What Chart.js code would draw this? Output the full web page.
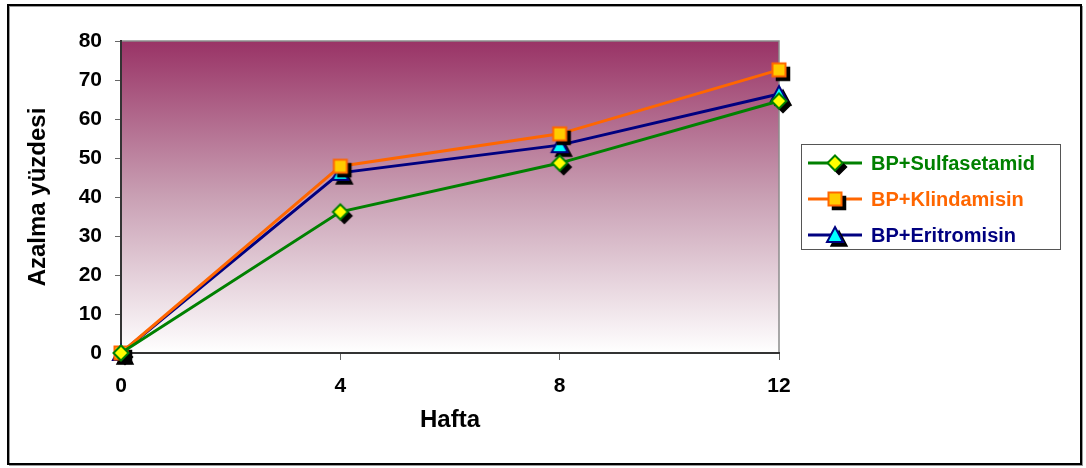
<!DOCTYPE html>
<html>
<head>
<meta charset="utf-8">
<script src="https://cdn.jsdelivr.net/npm/chart.js@4/dist/chart.umd.min.js"></script>
<style>
  html, body { margin: 0; padding: 0; background: #ffffff; }
  #wrap { width: 1086px; height: 468px; }
</style>
</head>
<body>
<div id="wrap"><canvas id="c" width="1086" height="468"></canvas></div>
<script>
// Weeks of treatment and reduction percentages per regimen
const weeks = [0, 4, 8, 12];
const sulfasetamid = [0, 36.2, 48.7, 64.6];
const klindamisin = [0, 47.9, 56.2, 72.6];
const eritromisin = [0, 46.2, 53.3, 66.4];
const seriesNames = ['BP+Sulfasetamid', 'BP+Klindamisin', 'BP+Eritromisin'];
const xTicks = [0, 4, 8, 12];
const yTicks = [0, 10, 20, 30, 40, 50, 60, 70, 80];

const FONT = '"Liberation Sans", Arial, Helvetica, sans-serif';

// Marker sprites with a hard black drop shadow down and to the right
function makeMarker(kind, fill, stroke) {
  const size = 30, c = size / 2, off = 4;
  const cv = document.createElement('canvas');
  cv.width = size; cv.height = size;
  const g = cv.getContext('2d');
  function path(dx, dy) {
    g.beginPath();
    if (kind === 'diamond') {
      const r = 7.5;
      g.moveTo(c + dx, c - r + dy);
      g.lineTo(c + r + dx, c + dy);
      g.lineTo(c + dx, c + r + dy);
      g.lineTo(c - r + dx, c + dy);
    } else if (kind === 'square') {
      const r = 6.5;
      g.rect(c - r + dx, c - r + dy, 2 * r, 2 * r);
    } else {
      const w = 8, h = 14;
      g.moveTo(c + dx, c - h / 2 - 1 + dy);
      g.lineTo(c + w + dx, c + h / 2 + dy);
      g.lineTo(c - w + dx, c + h / 2 + dy);
    }
    g.closePath();
  }
  path(off, off);
  g.fillStyle = '#000000';
  g.fill();
  g.lineWidth = 1.5;
  g.strokeStyle = '#000000';
  g.stroke();
  path(0, 0);
  g.fillStyle = fill;
  g.fill();
  g.lineWidth = 2;
  g.strokeStyle = stroke;
  g.stroke();
  return cv;
}

const styles = [
  { line: '#008000', marker: makeMarker('diamond', '#FFFF00', '#008000') },
  { line: '#FF6600', marker: makeMarker('square', '#FFCC00', '#FF6600') },
  { line: '#000080', marker: makeMarker('triangle', '#00FFFF', '#000080') }
];

function pts(arr) { return weeks.map((w, i) => ({ x: w, y: arr[i] })); }
const seriesValues = [sulfasetamid, klindamisin, eritromisin];

const datasets = seriesValues.map((vals, i) => ({
  label: seriesNames[i],
  data: pts(vals),
  borderColor: styles[i].line,
  backgroundColor: styles[i].line,
  borderWidth: 3,
  pointStyle: styles[i].marker,
  pointRadius: 8,
  pointHoverRadius: 8,
  tension: 0,
  clip: false
}));

// Outer frame, plot background gradient and plot border
const framePlugin = {
  id: 'frame',
  beforeDraw(chart) {
    const ctx = chart.ctx;
    ctx.save();
    ctx.fillStyle = '#ffffff';
    ctx.fillRect(0, 0, chart.width, chart.height);
    ctx.strokeStyle = '#9a9a9a';
    ctx.lineWidth = 1;
    ctx.strokeRect(9.5, 6.5, 1073, 459);
    ctx.strokeStyle = '#000000';
    ctx.lineWidth = 2;
    ctx.strokeRect(8, 5, 1073, 459);
    const a = chart.chartArea;
    const grad = ctx.createLinearGradient(0, a.top, 0, a.bottom);
    grad.addColorStop(0, '#993366');
    grad.addColorStop(0.5, '#C9A0B4');
    grad.addColorStop(1, '#FFFFFF');
    ctx.fillStyle = grad;
    ctx.fillRect(a.left, a.top, a.right - a.left, a.bottom - a.top);
    ctx.strokeStyle = '#8c8c8c';
    ctx.lineWidth = 1.5;
    ctx.beginPath();
    ctx.moveTo(a.left, a.top);
    ctx.lineTo(a.right, a.top);
    ctx.lineTo(a.right, a.bottom);
    ctx.stroke();
    ctx.restore();
  }
};

// Boxed legend on the right with line and marker samples
const legendPlugin = {
  id: 'boxLegend',
  afterDraw(chart) {
    const ctx = chart.ctx;
    ctx.save();
    ctx.strokeStyle = '#555555';
    ctx.lineWidth = 1;
    ctx.strokeRect(801.5, 144.5, 259, 105);
    const rows = [163, 199, 235];
    chart.data.datasets.forEach((ds, i) => {
      const y = rows[i];
      ctx.strokeStyle = ds.borderColor;
      ctx.lineWidth = 3;
      ctx.beginPath();
      ctx.moveTo(808, y);
      ctx.lineTo(862, y);
      ctx.stroke();
      const img = ds.pointStyle;
      ctx.drawImage(img, 835 - img.width / 2, y - img.height / 2);
      ctx.fillStyle = ds.borderColor;
      ctx.font = 'bold 20px ' + FONT;
      ctx.textBaseline = 'middle';
      ctx.textAlign = 'left';
      ctx.fillText(ds.label, 871, y + 1);
    });
    ctx.restore();
  }
};

new Chart(document.getElementById('c'), {
  type: 'line',
  data: { datasets },
  options: {
    responsive: false,
    animation: false,
    events: [],
    layout: { padding: { left: 0, top: 41, right: 1086 - 779, bottom: 33 } },
    plugins: { legend: { display: false }, tooltip: { enabled: false } },
    scales: {
      x: {
        type: 'linear',
        min: 0, max: 12,
        afterBuildTicks(scale) { scale.ticks = xTicks.map(v => ({ value: v })); },
        afterFit(scale) { scale.height = 82; },
        grid: { drawOnChartArea: false, drawTicks: true, tickLength: 7, color: '#666666', lineWidth: 1 },
        border: { display: true, color: '#333333', width: 2 },
        ticks: { color: '#000000', padding: 14, font: { family: FONT, size: 21, weight: 'bold' } },
        title: { display: true, text: 'Hafta', color: '#000000', padding: { top: 0, bottom: 0 },
                 font: { family: FONT, size: 24, weight: 'bold' } }
      },
      y: {
        min: 0, max: 80,
        afterBuildTicks(scale) { scale.ticks = yTicks.map(v => ({ value: v })); },
        afterFit(scale) { scale.width = 121; },
        grid: { drawOnChartArea: false, drawTicks: true, tickLength: 6, color: '#666666', lineWidth: 1 },
        border: { display: true, color: '#333333', width: 2 },
        ticks: { color: '#000000', padding: 13, font: { family: FONT, size: 21, weight: 'bold' } },
        title: { display: true, text: 'Azalma yüzdesi', color: '#000000', padding: { top: 24, bottom: 0 },
                 font: { family: FONT, size: 24, weight: 'bold' } }
      }
    }
  },
  plugins: [framePlugin, legendPlugin]
});
</script>
</body>
</html>
